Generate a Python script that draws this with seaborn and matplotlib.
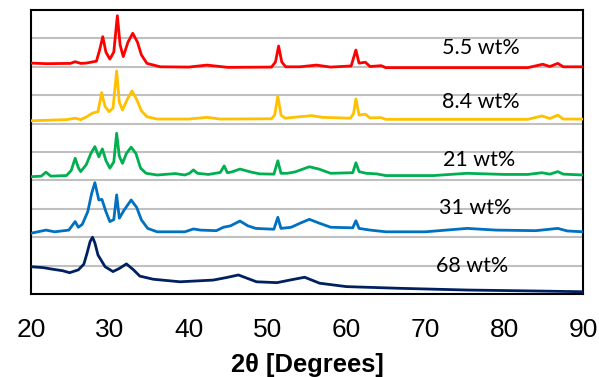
import matplotlib
matplotlib.use("Agg")
import matplotlib.pyplot as plt
import seaborn as sns
import pandas as pd

# ---- data (2theta, stacked intensity in axis units) ----
x_55 = [20.0, 22.0, 25.0, 25.6, 26.3, 27.0, 28.3, 28.7, 29.1, 29.5, 30.0, 30.5, 30.95, 31.3, 31.7,
        32.3, 32.9, 33.5, 34.0, 34.7, 36.4, 40.0, 42.3, 45.0, 50.5, 51.0, 51.4, 51.8, 52.3, 54.1,
        56.2, 58.0, 60.6, 61.2, 61.6, 62.4, 63.0, 64.4, 65.0, 83.0, 84.9, 85.8, 86.8, 87.5, 90.0]
y_55 = [8.13, 8.11, 8.12, 8.18, 8.12, 8.13, 8.20, 8.59, 9.06, 8.52, 8.27, 8.52, 9.80, 8.77, 8.36,
        8.87, 9.18, 8.87, 8.42, 8.12, 8.00, 7.99, 8.06, 7.98, 7.99, 8.17, 8.73, 8.17, 8.00, 8.00,
        8.06, 7.99, 8.03, 8.59, 8.13, 8.16, 8.01, 8.04, 7.97, 7.97, 8.09, 8.01, 8.12, 8.00, 8.00]

x_84 = [20.0, 24.5, 25.6, 26.3, 27.0, 27.8, 28.5, 28.95, 29.4, 29.9, 30.4, 30.86, 31.2, 31.6, 32.2,
        32.8, 33.4, 34.0, 34.7, 36.0, 40.0, 42.3, 44.0, 50.5, 50.9, 51.3, 51.7, 52.2, 54.0, 55.6,
        57.0, 60.5, 60.9, 61.2, 61.6, 62.4, 63.0, 64.4, 65.0, 83.0, 84.8, 85.8, 86.8, 87.5, 90.0]
y_84 = [6.10, 6.14, 6.19, 6.14, 6.23, 6.37, 6.42, 7.09, 6.60, 6.42, 6.55, 7.85, 6.75, 6.48, 6.85,
        7.15, 6.85, 6.45, 6.24, 6.16, 6.16, 6.22, 6.16, 6.17, 6.30, 6.97, 6.30, 6.19, 6.24, 6.28,
        6.22, 6.19, 6.35, 6.87, 6.30, 6.33, 6.20, 6.21, 6.15, 6.15, 6.27, 6.18, 6.30, 6.16, 6.16]

x_21 = [20.0, 21.3, 21.9, 22.5, 24.5, 25.1, 25.6, 26.0, 26.3, 27.0, 27.6, 28.1, 28.6, 29.05, 29.5,
        30.0, 30.5, 30.86, 31.2, 31.6, 32.1, 32.7, 33.3, 33.9, 34.6, 36.0, 38.3, 39.5, 40.1, 40.6,
        41.1, 42.5, 44.0, 44.5, 44.9, 45.5, 46.5, 47.8, 49.0, 50.8, 51.3, 51.7, 52.5, 53.5, 55.3,
        56.5, 58.0, 60.8, 61.2, 61.6, 62.5, 63.8, 65.0, 71.0, 75.3, 80.0, 83.0, 84.8, 85.8, 86.8,
        87.5, 90.0]
y_21 = [4.13, 4.15, 4.29, 4.15, 4.17, 4.35, 4.78, 4.45, 4.31, 4.55, 4.95, 5.19, 4.83, 5.11, 4.70,
        4.43, 4.65, 5.66, 4.85, 4.60, 4.95, 5.17, 4.95, 4.43, 4.25, 4.19, 4.24, 4.19, 4.25, 4.37,
        4.25, 4.21, 4.28, 4.51, 4.27, 4.30, 4.40, 4.30, 4.23, 4.22, 4.69, 4.25, 4.25, 4.30, 4.48,
        4.40, 4.25, 4.27, 4.62, 4.31, 4.25, 4.23, 4.17, 4.17, 4.25, 4.21, 4.21, 4.27, 4.22, 4.31,
        4.22, 4.19]

x_31 = [20.0, 21.9, 23.0, 24.8, 25.6, 26.0, 26.5, 27.2, 27.7, 28.1, 28.6, 29.0, 29.5, 30.0, 30.5,
        30.86, 31.2, 31.8, 32.7, 33.4, 34.0, 34.8, 36.0, 39.5, 40.6, 41.5, 43.5, 44.4, 45.3, 46.5,
        47.5, 48.5, 50.8, 51.3, 51.7, 53.0, 54.1, 55.3, 56.5, 58.0, 60.8, 61.2, 61.6, 63.0, 65.0,
        70.0, 75.3, 79.0, 84.0, 86.8, 88.0, 90.0]
y_31 = [2.14, 2.25, 2.19, 2.25, 2.55, 2.35, 2.45, 2.90, 3.55, 3.92, 3.31, 3.33, 2.90, 2.55, 2.62,
        3.49, 2.67, 2.95, 3.31, 3.05, 2.61, 2.31, 2.19, 2.19, 2.29, 2.25, 2.23, 2.35, 2.40, 2.57,
        2.40, 2.31, 2.28, 2.70, 2.31, 2.35, 2.49, 2.63, 2.50, 2.35, 2.33, 2.58, 2.31, 2.25, 2.19,
        2.19, 2.31, 2.25, 2.23, 2.31, 2.22, 2.19]

x_68 = [20.0, 21.5, 22.8, 24.0, 24.9, 26.0, 26.7, 27.1, 27.5, 27.8, 28.1, 28.5, 29.4, 30.4, 31.2,
        32.1, 33.0, 33.8, 35.5, 38.9, 43.1, 44.8, 46.3, 48.6, 51.2, 53.0, 54.7, 56.6, 60.0, 66.8,
        75.3, 83.0, 90.0]
y_68 = [0.96, 0.93, 0.87, 0.82, 0.75, 0.85, 1.05, 1.43, 1.85, 2.00, 1.80, 1.37, 0.96, 0.79, 0.90,
        1.06, 0.85, 0.63, 0.52, 0.43, 0.49, 0.58, 0.67, 0.43, 0.40, 0.50, 0.59, 0.38, 0.26, 0.20,
        0.14, 0.11, 0.08]

labels = ["5.5 wt%", "8.4 wt%", "21 wt%", "31 wt%", "68 wt%"]
label_x = [77.1, 77.1, 76.8, 76.3, 75.9]
label_y = [8.44, 6.55, 4.51, 2.82, 0.79]
colors = ["#ff0000", "#ffc000", "#00b050", "#0070c0", "#002060"]
xticks = [20, 30, 40, 50, 60, 70, 80, 90]

series = [(x_55, y_55), (x_84, y_84), (x_21, y_21), (x_31, y_31), (x_68, y_68)]

sns.set_style("white")
plt.rcParams["font.family"] = ["Lato", "DejaVu Sans"]
plt.rcParams["text.color"] = "black"
plt.rcParams["axes.labelcolor"] = "black"
plt.rcParams["xtick.color"] = "black"
plt.rcParams["xtick.labelcolor"] = "black"

fig = plt.figure(figsize=(5.99, 3.77), dpi=100)
ax = fig.add_axes([31/599, 83/377, 552/599, 284/377])

for y in range(1, 10):
    ax.axhline(y, color="#c0c0c0", lw=1.5, zorder=0)

for (xs, ys), c in zip(series, colors):
    df = pd.DataFrame({"x": xs, "y": ys})
    sns.lineplot(data=df, x="x", y="y", color=c, lw=2.0, ax=ax, sort=False, zorder=3)

for lab, lx, ly in zip(labels, label_x, label_y):
    ax.text(lx, ly, lab, fontsize=15.5, ha="center", va="baseline", color="black", zorder=4)

ax.set_xlim(20, 90)
ax.set_ylim(0, 10)
ax.set_yticks([])
ax.set_xticks(xticks)
ax.set_xticklabels([str(t) for t in xticks], family=["Liberation Sans Narrow", "Liberation Sans"],
                   fontsize=19, color="black")
ax.tick_params(axis="x", direction="in", length=6, width=1.5, color="black", labelcolor="black", pad=17)
for s in ax.spines.values():
    s.set_color("black")
    s.set_linewidth(1.5)
ax.set_ylabel("")
ax.set_xlabel("2θ [Degrees]", fontsize=18.4, fontweight="bold", color="black",
              family=["Liberation Sans Narrow", "Liberation Sans"])
ax.xaxis.label.set_va("baseline")
ax.xaxis.set_label_coords(0.5, (294 - 371.7) / 284)

fig.savefig("out.png", dpi=100)
